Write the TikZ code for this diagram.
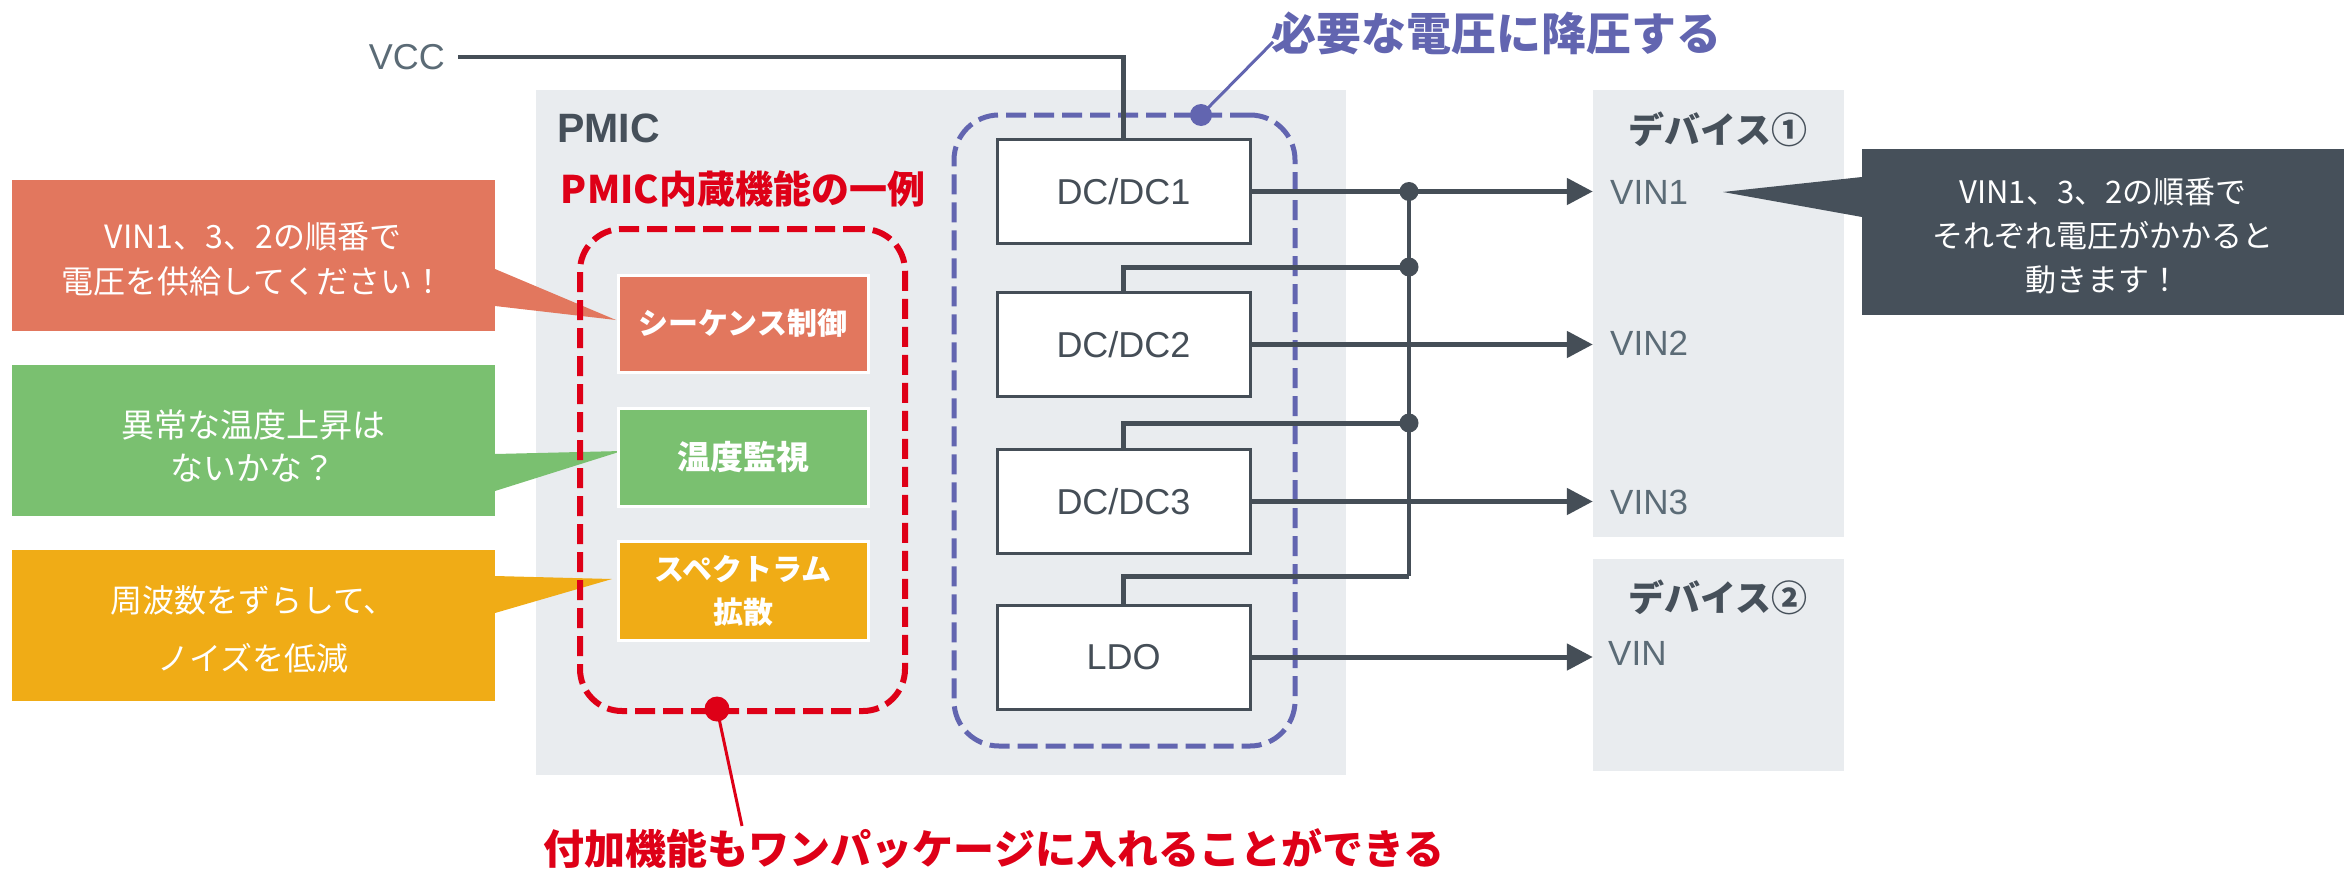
\documentclass[tikz,border=0pt]{standalone}
\usepackage{fontspec}
\setmainfont{Noto Sans CJK JP}
\newfontfamily\lat{Liberation Sans}
\usetikzlibrary{arrows.meta}
\definecolor{bg}{HTML}{E9ECEF}
\definecolor{corange}{HTML}{E2775E}
\definecolor{cgreen}{HTML}{7AC070}
\definecolor{cyellow}{HTML}{F0AC16}
\definecolor{cdark}{HTML}{46505A}
\definecolor{cred}{HTML}{DE0017}
\definecolor{cblue}{HTML}{6265B0}
\definecolor{cline}{HTML}{454E57}
\definecolor{cvin}{HTML}{5B6B76}
\newcommand\fsz[2]{\fontsize{#1}{#2}\selectfont}
\begin{document}
\begin{tikzpicture}[x=1pt,y=-1pt,
  panel/.style={fill=bg,draw=none,inner sep=0},
  conv/.style={draw=cline,line width=3pt,fill=white,minimum width=253,minimum height=104,inner sep=0,font=\lat\fsz{36}{36},text=cline},
  func/.style={draw=white,line width=3pt,minimum width=250,inner sep=0,text=white,font=\bfseries\fsz{30}{43},align=center},
  bubble/.style={minimum width=483,minimum height=151,inner sep=0},
  btext/.style={text=white,align=center,inner sep=0},
  wire/.style={draw=cline,line width=5pt},
  bus/.style={draw=cline,line width=4pt},
  arr/.style={wire,-{Triangle[length=26pt,width=26pt]}},
  dot/.style={circle,fill=cline,minimum size=19,inner sep=0},
  vin/.style={anchor=west,inner sep=0,font=\lat\fsz{35}{35},text=cvin},
  devlbl/.style={inner sep=0,font=\bfseries\fsz{36}{36},text=cdark}
]
\useasboundingbox (0,0) rectangle (2344,875);

% panels
\node[panel,minimum width=810,minimum height=685] (pmic) at (941,432.5) {};
\node[panel,minimum width=251,minimum height=447] (dev1) at (1718.5,313.5) {};
\node[panel,minimum width=251,minimum height=212] (dev2) at (1718.5,665) {};

% callouts
\node[bubble,fill=corange] (c1) at (253.5,255.5) {};
\fill[corange] (495,269) -- (616,320) -- (495,306) -- cycle;
\node[btext,font=\fsz{32}{45}] (t1) at (253,259) {VIN1、3、2の順番で\\電圧を供給してください！};

\node[bubble,fill=cgreen] (c2) at (253.5,440.5) {};
\fill[cgreen] (495,454) -- (622,451) -- (495,491) -- cycle;
\node[btext,font=\fsz{33}{43}] (t2) at (253,446) {異常な温度上昇は\\ないかな？};

\node[bubble,fill=cyellow] (c3) at (253.5,625.5) {};
\fill[cyellow] (495,576) -- (612,579) -- (495,613) -- cycle;
\node[btext,font=\fsz{32}{58}] (t3) at (253,629) {周波数をずらして、\\ノイズを低減};

\node[fill=cdark,minimum width=482,minimum height=166,inner sep=0] (c4) at (2103,232) {};
\fill[cdark] (1862,177) -- (1723,192) -- (1862,217) -- cycle;
\node[btext,font=\fsz{31}{44}] (t4) at (2103,236) {VIN1、3、2の順番で\\それぞれ電圧がかかると\\動きます！};

% PMIC labels
\node[anchor=west,inner sep=0,font=\lat\bfseries\fsz{41}{41},text=cdark] (pmiclbl) at (557,128) {PMIC};
\node[inner sep=0,font=\bfseries\fsz{38}{38},text=cred] (exlbl) at (743,189) {PMIC内蔵機能の一例};

% dashed groups
\node[draw=cred,line width=6pt,dash pattern=on 20pt off 8pt,rounded corners=42,minimum width=325,minimum height=482,inner sep=0] (fgroup) at (742.5,470) {};
\node[draw=cblue,line width=5pt,dash pattern=on 20pt off 8pt,rounded corners=45,minimum width=341,minimum height=631,inner sep=0] (dgroup) at (1124.5,430.5) {};

% function boxes
\node[func,fill=corange,minimum height=97] (seq) at (743,323.5) {シーケンス制御};
\node[func,fill=cgreen,minimum height=98,font=\bfseries\fsz{33}{43}] (temp) at (743,457) {温度監視};
\node[func,fill=cyellow,minimum height=99] (ssc) at (743,590.5) {スペクトラム\\拡散};

% converters
\node[conv] (dc1) at (1123.5,191.5) {DC/DC1};
\node[conv] (dc2) at (1123.5,344.5) {DC/DC2};
\node[conv] (dc3) at (1123.5,501.5) {DC/DC3};
\node[conv] (ldo) at (1123.5,657) {LDO};

% VCC
\node[anchor=east,inner sep=0,font=\lat\fsz{36}{36},text=cvin] (vcc) at (445,57) {VCC};
\draw[wire,line width=4.5pt] ([xshift=13pt]vcc.east) -| (dc1.north);

% bus
\coordinate (j1) at (1409,191.5);
\coordinate (j2) at (1409,267);
\coordinate (j3) at (1409,423);
\coordinate (j4) at (1409,576);
\draw[bus] (j1) -- (j4);
\draw[wire] (j2) -| (dc2.north);
\draw[wire] (j3) -| (dc3.north);
\draw[wire] (j4) -| (ldo.north);

% outputs
\draw[arr] (dc1.east) -- (dc1.east -| dev1.west);
\draw[arr] (dc2.east) -- (dc2.east -| dev1.west);
\draw[arr] (dc3.east) -- (dc3.east -| dev1.west);
\draw[arr] (ldo.east) -- (ldo.east -| dev2.west);

\node[dot] (d1) at (j1) {};
\node[dot] (d2) at (j2) {};
\node[dot] (d3) at (j3) {};

% device labels
\node[devlbl] (dev1lbl) at (1718,129) {デバイス①};
\node[devlbl] (dev2lbl) at (1718,597) {デバイス②};
\node[vin] (vin1) at (1610,192) {VIN1};
\node[vin] (vin2) at (1610,343) {VIN2};
\node[vin] (vin3) at (1610,502) {VIN3};
\node[vin] (vin) at (1608,653) {VIN};

% annotations
\node[inner sep=0,font=\bfseries\fsz{45}{45},text=cblue] (title) at (1496,33) {必要な電圧に降圧する};
\coordinate (tl) at (1273,42);
\node[circle,fill=cblue,minimum size=22,inner sep=0] (bdot) at (1201,115) {};
\draw[cblue,line width=3pt] (bdot.center) -- (tl);

\node[inner sep=0,font=\bfseries\fsz{41}{41},text=cred] (addon) at (994,849) {付加機能もワンパッケージに入れることができる};
\coordinate (al) at (742,826);
\node[circle,fill=cred,minimum size=25,inner sep=0] (rdot) at (717,709) {};
\draw[cred,line width=3pt] (rdot.center) -- (al);
\end{tikzpicture}
\end{document}
